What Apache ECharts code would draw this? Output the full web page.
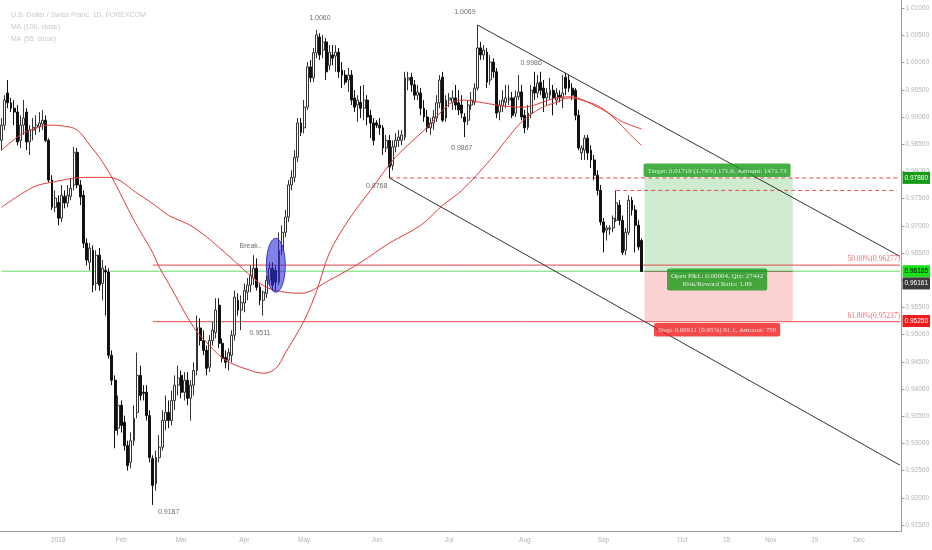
<!DOCTYPE html>
<html><head><meta charset="utf-8">
<script src="https://cdn.jsdelivr.net/npm/echarts@6/dist/echarts.min.js"></script>
<style>html,body{margin:0;padding:0;background:#fff}#c{width:932px;height:550px}</style>
</head><body><div id="c"></div>
<script>
// ---------- data ----------
const barCount = 286;
const tickIndex  = [18, 38, 57, 77, 96, 119, 142, 166, 191, 216, 230, 244, 258, 272];
const tickLabels = ['2018','Feb','Mar','Apr','May','Jun','Jul','Aug','Sep','Oct','15','Nov','19','Dec'];
const priceTicks = [0.915,0.920,0.925,0.930,0.935,0.940,0.945,0.950,0.955,0.960,0.965,0.970,0.975,0.980,0.985,0.990,0.995,1.000,1.005,1.010];

// [open, close, low, high]
const candles = [
[.9857,.9885,.9839,.9898],[.9885,.9931,.9876,.9940],[.9944,.9926,.9916,.9968],[.9926,.9916,.9909,.9935],[.9916,.9909,.9885,.9931],
[.9909,.9854,.9848,.9922],[.9857,.9885,.9843,.9903],[.9885,.9898,.9867,.9931],[.9909,.9854,.9839,.9916],[.9854,.9876,.9830,.9885],
[.9876,.9881,.9857,.9898],[.9880,.9885,.9867,.9903],[.9883,.9889,.9872,.9909],[.9887,.9894,.9876,.9913],[.9894,.9857,.9854,.9903],
[.9857,.9784,.9780,.9861],[.9784,.9734,.9729,.9793],[.9734,.9751,.9725,.9765],[.9743,.9714,.9701,.9756],[.9714,.9756,.9707,.9775],
[.9754,.9742,.9732,.9765],[.9742,.9756,.9734,.9775],[.9754,.9769,.9747,.9788],[.9775,.9835,.9765,.9845],[.9835,.9775,.9769,.9843],
[.9775,.9753,.9738,.9784],[.9756,.9668,.9659,.9765],[.9668,.9637,.9627,.9677],[.9633,.9659,.9618,.9668],[.9655,.9591,.9578,.9664],
[.9594,.9646,.9581,.9655],[.9646,.9591,.9581,.9659],[.9594,.9622,.9563,.9637],[.9618,.9615,.9535,.9627],[.9615,.9462,.9456,.9622],
[.9462,.9416,.9407,.9471],[.9416,.9324,.9291,.9425],[.9328,.9370,.9315,.9388],[.9370,.9333,.9320,.9379],[.9339,.9296,.9287,.9351],
[.9296,.9259,.9250,.9305],[.9265,.9305,.9254,.9320],[.9305,.9346,.9296,.9370],[.9357,.9425,.9346,.9467],[.9425,.9388,.9379,.9443],
[.9394,.9392,.9379,.9407],[.9394,.9351,.9342,.9407],[.9351,.9274,.9265,.9361],[.9272,.9223,.9187,.9278],[.9226,.9274,.9213,.9287],
[.9274,.9293,.9265,.9315],[.9293,.9342,.9287,.9361],[.9342,.9357,.9324,.9388],[.9357,.9342,.9328,.9379],[.9342,.9379,.9333,.9397],
[.9379,.9407,.9361,.9425],[.9407,.9420,.9388,.9443],[.9425,.9394,.9383,.9434],[.9394,.9416,.9379,.9431],[.9416,.9383,.9370,.9431],
[.9383,.9407,.9342,.9416],[.9407,.9434,.9388,.9449],[.9434,.9513,.9425,.9535],[.9512,.9489,.9480,.9530],[.9489,.9471,.9462,.9508],
[.9471,.9438,.9425,.9480],[.9440,.9489,.9431,.9499],[.9489,.9508,.9480,.9523],[.9504,.9545,.9493,.9567],[.9554,.9484,.9475,.9567],
[.9484,.9456,.9449,.9493],[.9458,.9449,.9438,.9471],[.9453,.9467,.9434,.9475],[.9462,.9499,.9449,.9508],[.9499,.9569,.9489,.9581],
[.9563,.9545,.9535,.9576],[.9545,.9559,.9508,.9572],[.9558,.9581,.9541,.9594],[.9578,.9591,.9563,.9604],[.9591,.9609,.9578,.9627],
[.9604,.9622,.9591,.9646],[.9622,.9587,.9581,.9640],[.9587,.9563,.9554,.9594],[.9563,.9578,.9535,.9581],[.9576,.9600,.9567,.9609],
[.9600,.9622,.9591,.9633],[.9622,.9591,.9581,.9633],[.9618,.9596,.9581,.9627],[.9596,.9655,.9591,.9688],[.9655,.9688,.9646,.9701],
[.9688,.9716,.9679,.9729],[.9716,.9775,.9707,.9784],[.9775,.9789,.9765,.9802],[.9789,.9826,.9780,.9839],[.9826,.9889,.9817,.9898],
[.9889,.9872,.9865,.9898],[.9880,.9918,.9870,.9931],[.9918,.9992,.9913,1.0001],[.9992,.9972,.9964,1.0005],[.9972,1.0018,.9964,1.0027],
[1.0018,1.0051,1.0008,1.0060],[1.0047,1.0014,1.0005,1.0054],[1.0023,1.0038,1.0008,1.0051],[1.0038,.9983,.9968,1.0045],[.9995,1.0019,.9986,1.0032],
[1.0014,1.0008,.9995,1.0032],[1.0012,1.0019,.9983,1.0032],[1.0019,.9983,.9972,1.0027],[.9986,.9977,.9953,1.0001],[.9977,.9964,.9959,.9986],
[.9968,.9977,.9946,.9990],[.9977,.9931,.9922,.9986],[.9935,.9918,.9909,.9949],[.9922,.9931,.9891,.9940],[.9927,.9916,.9898,.9957],
[.9916,.9931,.9894,.9959],[.9931,.9900,.9885,.9940],[.9903,.9889,.9861,.9913],[.9889,.9857,.9848,.9898],[.9889,.9885,.9880,.9894],
[.9885,.9880,.9867,.9898],[.9880,.9843,.9830,.9885],[.9843,.9857,.9835,.9867],[.9857,.9808,.9788,.9867],[.9811,.9845,.9802,.9857],
[.9845,.9857,.9835,.9870],[.9857,.9863,.9845,.9876],[.9857,.9867,.9848,.9876],[.9863,.9972,.9857,.9983],[.9968,.9972,.9949,.9983],
[.9973,.9959,.9946,.9981],[.9959,.9940,.9931,.9968],[.9940,.9946,.9931,.9959],[.9944,.9916,.9903,.9953],[.9916,.9900,.9891,.9931],
[.9900,.9880,.9872,.9913],[.9880,.9889,.9867,.9898],[.9889,.9900,.9876,.9913],[.9898,.9926,.9891,.9940],[.9926,.9968,.9916,.9977],
[.9973,.9894,.9891,.9983],[.9898,.9931,.9891,.9940],[.9931,.9935,.9918,.9944],[.9927,.9935,.9913,.9949],[.9935,.9922,.9913,.9959],
[.9926,.9913,.9903,.9949],[.9922,.9907,.9898,.9940],[.9900,.9891,.9863,.9907],[.9894,.9922,.9885,.9931],[.9922,.9931,.9913,.9946],
[.9927,.9953,.9922,.9962],[.9953,1.0027,.9949,1.0069],[1.0027,1.0014,1.0005,1.0038],[1.0014,1.0023,1.0005,1.0032],[1.0019,.9964,.9953,1.0027],
[.9968,1.0001,.9959,1.0014],[1.0001,.9983,.9972,1.0008],[.9983,.9907,.9898,.9990],[.9909,.9922,.9894,.9931],[.9920,.9931,.9909,.9949],
[.9927,.9935,.9916,.9959],[.9931,.9935,.9922,.9959],[.9935,.9903,.9898,.9946],[.9907,.9937,.9900,.9949],[.9937,.9946,.9931,.9977],
[.9946,.9900,.9894,.9959],[.9903,.9880,.9870,.9913],[.9881,.9907,.9876,.9922],[.9907,.9949,.9898,.9959],[.9955,.9944,.9931,.9983],
[.9944,.9962,.9935,.9977],[.9964,.9949,.9940,.9983],[.9953,.9935,.9909,.9968],[.9935,.9944,.9922,.9953],[.9940,.9949,.9931,.9972],
[.9949,.9935,.9903,.9959],[.9931,.9944,.9922,.9953],[.9940,.9935,.9927,.9949],[.9935,.9944,.9916,.9977],[.9973,.9953,.9940,.9981],
[.9968,.9953,.9946,.9977],[.9953,.9940,.9931,.9962],[.9949,.9903,.9894,.9953],[.9903,.9843,.9839,.9913],[.9834,.9843,.9821,.9848],
[.9839,.9861,.9821,.9867],[.9861,.9834,.9821,.9867],[.9839,.9821,.9806,.9848],[.9821,.9793,.9784,.9830],[.9793,.9765,.9756,.9802],
[.9765,.9707,.9701,.9775],[.9707,.9688,.9651,.9714],[.9692,.9696,.9673,.9701],[.9694,.9696,.9683,.9701],[.9696,.9714,.9688,.9719],
[.9710,.9742,.9707,.9765],[.9738,.9710,.9701,.9747],[.9710,.9651,.9646,.9719],[.9655,.9688,.9646,.9696],[.9688,.9747,.9683,.9756],
[.9747,.9729,.9719,.9753],[.9729,.9701,.9651,.9738],[.9701,.9661,.9655,.9710],[.9673,.9616,.9615,.9677]
];

// moving averages: [bar index, price]
const ma100 = [[0,.9734],[10,.9771],[16,.9780],[26,.9789],[34,.9789],[44,.9756],[50,.9732],[53,.9719],[61,.9697],[71,.9650],
[82,.9594],[87,.9581],[95,.9576],[104,.9600],[114,.9633],[123,.9668],[133,.9701],[140,.9738],[146,.9765],[155,.9821],
[160,.9857],[165,.9891],[171,.9916],[176,.9927],[180,.9935],[184,.9931],[190,.9918],[195,.9894],[199,.9870],[203,.9848]];
const ma55 = [[0,.9839],[6,.9867],[11,.9880],[15,.9885],[20,.9883],[24,.9876],[28,.9848],[31,.9826],[35,.9789],[42,.9710],
[48,.9650],[50,.9624],[53,.9594],[61,.9513],[66,.9480],[71,.9453],[79,.9434],[83,.9429],[87,.9438],[90,.9466],
[96,.9526],[100,.9581],[104,.9650],[110,.9710],[117,.9765],[125,.9826],[135,.9881],[140,.9913],[143,.9927],[146,.9931],
[152,.9927],[157,.9922],[165,.9918],[176,.9935],[181,.9937],[186,.9927],[192,.9909],[197,.9891],[203,.9878]];

// drawings
const channelUpper = [[151, 1.0069], [285, 0.9644]];
const channelLower = [[123, 0.9788], [285, 0.9260]];
const fibStart = 48, fibEnd = 285;
const fib50 = 0.96277, fib618 = 0.95237;
const dashTarget = [[123, 0.9788], [285, 0.9788]];
const dashHigh = [[195, 0.9765], [284, 0.9765]];
const breakZone = [[84, 0.9677, 90, 0.9578]];
const lastPrice = 0.96165;
const lastPriceLine = [[0, 0.96165], [285, 0.96165]];
const posStart = 204, posEnd = 251, posMid = 227;
const entryPrice = 0.96161, targetPrice = 0.9788, stopPrice = 0.9525;
const notes = [[101,1.0082,'1.0060'],[147,1.0093,'1.0069'],[168,0.9999,'0.9986'],[146,0.9843,'0.9867'],
               [119,0.9773,'0.9768'],[82,0.9502,'0.9511'],[53,0.9173,'0.9187'],[79,0.9662,'Break..']];
const targetText = 'Target: 0.01719 (1.79%) 171.9, Amount: 1471.73';
const pnlText = 'Open P&L: 0.00004, Qty: 27442\nRisk/Reward Ratio: 1.89';
const stopText = 'Stop: 0.00911 (0.95%) 91.1, Amount: 750';
const titleLines = ['U.S. Dollar / Swiss Franc, 1D, FOREXCOM', 'MA (100, close)', 'MA (55, close)'];

// ---------- chart ----------
const labelMap = {};
tickIndex.forEach((k, j) => { labelMap[k] = tickLabels[j]; });
const categories = Array.from({length: barCount}, (_, i) => 'b' + i);
const showTick = (i) => labelMap[i] !== undefined;

const chart = echarts.init(document.getElementById('c'), null, {renderer: 'canvas'});
const serif = 'Liberation Serif';
const sans = 'Liberation Sans';
const axisBox = (val, bg, fg, extra) => Object.assign({
  show: true, position: 'end', distance: 1, formatter: () => val.toFixed(5),
  backgroundColor: bg, color: fg, fontSize: 6.5, fontFamily: sans, padding: [3, 2, 2, 2]
}, extra || {});
const hidden = {color: 'rgba(0,0,0,0)', width: 0.01, type: 'solid'};

const option = {
  animation: false,
  backgroundColor: '#fff',
  title: {
    left: 6, top: 4, text: titleLines.join('\n'),
    textStyle: {fontSize: 7, color: '#c9c9c9', fontWeight: 'normal', lineHeight: 12, fontFamily: sans}
  },
  grid: {left: 0, right: 29, top: 0, bottom: 19, containLabel: false},
  xAxis: {
    type: 'category', data: categories, boundaryGap: true,
    axisLine: {lineStyle: {color: '#9a9a9a', width: 1}},
    axisTick: {interval: showTick, alignWithLabel: true, length: 3, lineStyle: {color: '#9a9a9a'}},
    axisLabel: {interval: showTick, formatter: (v, i) => labelMap[i] || '', fontSize: 6.5, color: '#b3b3b3', margin: 6, fontFamily: sans},
    splitLine: {show: false}
  },
  yAxis: {
    type: 'value', position: 'right', min: 0.9139, max: 1.0115, scale: true,
    axisLine: {show: true, lineStyle: {color: '#9a9a9a'}},
    axisTick: {show: true, length: 3, customValues: priceTicks, lineStyle: {color: '#9a9a9a'}},
    axisLabel: {customValues: priceTicks, formatter: v => v.toFixed(5), fontSize: 6.5, color: '#b3b3b3', margin: 4, fontFamily: sans},
    splitLine: {show: false}
  },
  series: [
    { // position tool zones
      type: 'custom', z: 1, silent: true,
      data: [[posStart, targetPrice, posEnd, entryPrice], [posStart, entryPrice, posEnd, stopPrice]],
      renderItem: (params, api) => {
        const a = api.coord([api.value(0), api.value(1)]);
        const b = api.coord([api.value(2), api.value(3)]);
        return {type: 'rect', shape: {x: Math.min(a[0], b[0]), y: Math.min(a[1], b[1]), width: Math.abs(b[0] - a[0]), height: Math.abs(b[1] - a[1])},
          style: {fill: params.dataIndex === 0 ? 'rgba(40,170,40,0.22)' : 'rgba(240,70,70,0.25)'}};
      }
    },
    {type: 'line', data: lastPriceLine, symbol: 'none', z: 2, silent: true, lineStyle: {color: '#66dd66', width: 1}},
    {type: 'line', data: [[posStart, entryPrice], [posEnd, entryPrice]], symbol: 'none', z: 2, silent: true,
     lineStyle: {color: '#8c7b63', width: 1}},
    {type: 'line', data: [[fibStart, fib50], [fibEnd, fib50]], symbol: 'none', z: 2, silent: true, lineStyle: {color: '#e5484d', width: 1}},
    {type: 'line', data: [[fibStart, fib618], [fibEnd, fib618]], symbol: 'none', z: 2, silent: true, lineStyle: {color: '#e5484d', width: 1}},
    {type: 'line', data: dashTarget, symbol: 'none', z: 2, silent: true, lineStyle: {color: '#e5484d', width: 1, type: [4, 3]}},
    {type: 'line', data: dashHigh, symbol: 'none', z: 2, silent: true, lineStyle: {color: '#e5484d', width: 1, type: [4, 3]}},
    {type: 'line', data: channelUpper, symbol: 'none', z: 2, silent: true, lineStyle: {color: '#333', width: 1}},
    {type: 'line', data: channelLower, symbol: 'none', z: 2, silent: true, lineStyle: {color: '#333', width: 1}},
    {type: 'line', data: ma100, symbol: 'none', smooth: 0.35, z: 4, silent: true, lineStyle: {color: '#e43b3b', width: 1}},
    {type: 'line', data: ma55, symbol: 'none', smooth: 0.35, z: 4, silent: true, lineStyle: {color: '#e43b3b', width: 1}},
    {
      type: 'candlestick', data: candles, barWidth: 2.4, z: 3, silent: true,
      itemStyle: {color: '#ffffff', color0: '#111111', borderColor: '#333333', borderColor0: '#111111', borderWidth: 1},
      markLine: {
        silent: true, symbol: 'none', animation: false, precision: 5,
        data: [
          {yAxis: lastPrice, lineStyle: hidden, label: axisBox(lastPrice, '#19e019', '#000')},
          {yAxis: targetPrice, lineStyle: hidden, label: axisBox(targetPrice, '#179a17', '#fff')},
          {yAxis: entryPrice, lineStyle: hidden, label: axisBox(entryPrice, '#3b3b3b', '#fff', {offset: [0, 12]})},
          {yAxis: stopPrice, lineStyle: hidden, label: axisBox(stopPrice, '#f01c1c', '#fff')}
        ]
      }
    },
    { // "Break.." ellipse
      type: 'custom', z: 6, silent: true, data: breakZone,
      renderItem: (params, api) => {
        const a = api.coord([api.value(0), api.value(1)]);
        const b = api.coord([api.value(2), api.value(3)]);
        return {type: 'ellipse', shape: {cx: (a[0] + b[0]) / 2, cy: (a[1] + b[1]) / 2, rx: Math.abs(b[0] - a[0]) / 2, ry: Math.abs(b[1] - a[1]) / 2},
          style: {fill: 'rgba(45,45,215,0.6)', stroke: '#3535c8', lineWidth: 1}};
      }
    },
    { // price notes
      type: 'scatter', z: 7, silent: true, symbolSize: 0,
      data: notes.map(n => [n[0], n[1]]),
      label: {show: true, position: 'inside', formatter: p => notes[p.dataIndex][2], fontSize: 7, color: '#4a4a4a', fontFamily: sans}
    },
    { // fib labels
      type: 'scatter', z: 7, silent: true, symbolSize: 0,
      data: [[fibEnd, fib50], [fibEnd, fib618]],
      label: {show: true, position: 'top', align: 'right', distance: 2, fontSize: 7.5, color: '#e5484d', fontFamily: serif,
        formatter: p => (p.dataIndex === 0 ? '50.00%(' + fib50.toFixed(5) + ')' : '61.80%(' + fib618.toFixed(5) + ')')}
    },
    { // position tool labels
      type: 'scatter', z: 8, silent: true, symbolSize: 0,
      data: [
        {value: [posMid, targetPrice], label: {position: 'top', distance: 1, formatter: targetText, backgroundColor: '#189a18'}},
        {value: [posMid, entryPrice], label: {position: 'bottom', distance: 0, offset: [0, -3], formatter: pnlText, backgroundColor: '#189a18'}},
        {value: [posMid, stopPrice], label: {position: 'bottom', distance: 2, formatter: stopText, backgroundColor: '#f01c1c'}}
      ],
      label: {show: true, color: '#fff', fontSize: 7, fontFamily: serif, padding: [3, 4, 2, 4], borderRadius: 2, align: 'center', lineHeight: 8.5}
    }
  ]
};
chart.setOption(option);
</script>
</body></html>
